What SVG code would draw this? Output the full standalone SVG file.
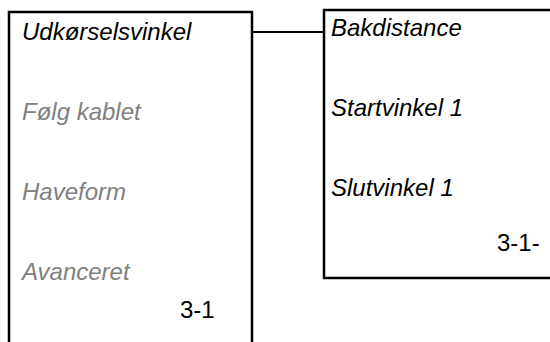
<svg xmlns="http://www.w3.org/2000/svg" width="550" height="342" viewBox="0 0 550 342">
<style>
.box{fill:#fff;stroke:#000;stroke-width:2.5}
.t{font-family:"Liberation Sans",Arial,sans-serif;font-size:24px;font-style:italic;fill:#000}
.g{fill:#808080}
.n{font-family:"Liberation Sans",Arial,sans-serif;font-size:24px;fill:#000}
.c{stroke:#000;stroke-width:2;fill:none}
</style>
<rect width="550" height="342" fill="#fff"/>
<g id="connectors">
<line class="c" x1="252" y1="32" x2="324" y2="32"/>
</g>
<g id="node-left">
<rect class="box" x="9" y="12" width="243" height="345"/>
<text class="t" x="22" y="40">Udkørselsvinkel</text>
<text class="t g" x="22" y="120">Følg kablet</text>
<text class="t g" x="22" y="200">Haveform</text>
<text class="t g" x="22" y="280">Avanceret</text>
<text class="n" x="180" y="318">3-1</text>
</g>
<g id="node-right">
<rect class="box" x="324" y="10" width="240" height="268"/>
<text class="t" x="331" y="36">Bakdistance</text>
<text class="t" x="331" y="116">Startvinkel 1</text>
<text class="t" x="331" y="196">Slutvinkel 1</text>
<text class="n" x="497" y="251">3-1-</text>
</g>
</svg>
